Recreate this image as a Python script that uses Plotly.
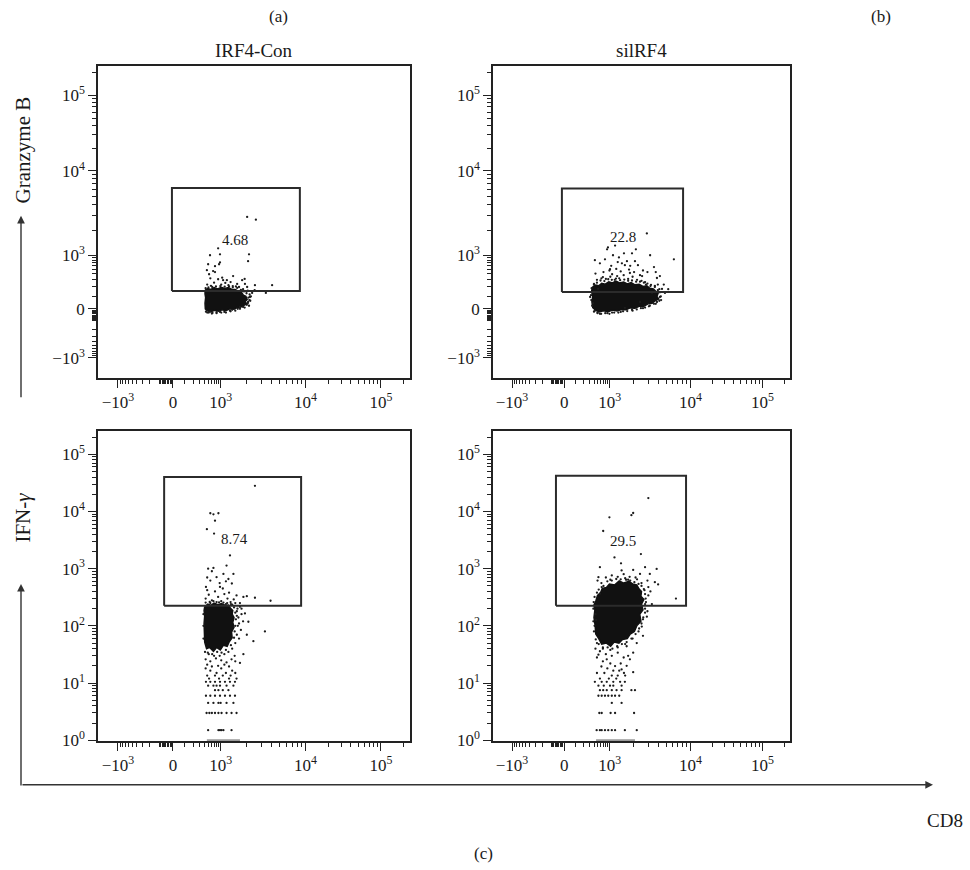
import numpy as np
import plotly.graph_objects as go

W, H = 970, 870
FONT = "Liberation Serif"
INK = "#1a1a1a"

# ---------------- axis scales ----------------
# CD8 (x) and Granzyme B (top y) are on logicle display scales, stored as channels 0-1000
LOGICLE_ANCHOR_VALUES = [-1e4, -1e3, 0, 1e3, 1e4, 1e5, 1e6]
LOGICLE_X_CHANNELS = [-92, 64, 240, 393, 665, 907, 1149]
LOGICLE_Y_CHANNELS = [-74, 65, 222, 393, 665, 907, 1149]
LOGICLE_MAJOR = [-1e3, 0, 1e3, 1e4, 1e5]
LOGICLE_MAJOR_TEXT = ["\u221210<sup>3</sup>", "0", "10<sup>3</sup>", "10<sup>4</sup>", "10<sup>5</sup>"]
LOGICLE_MINOR = ([-900, -800, -700, -600, -500, -400, -300, -200, -100,
                  -90, -80, -70, -60, -50, -40, -30, -20, -10,
                  100, 200, 300, 400, 500, 600, 700, 800, 900,
                  2e3, 3e3, 4e3, 5e3, 6e3, 7e3, 8e3, 9e3,
                  2e4, 3e4, 4e4, 5e4, 6e4, 7e4, 8e4, 9e4, 2e5])

# IFN-gamma (bottom y) is logarithmic
LOG_MAJOR = [1, 10, 100, 1e3, 1e4, 1e5]
LOG_MAJOR_TEXT = ["10<sup>0</sup>", "10<sup>1</sup>", "10<sup>2</sup>", "10<sup>3</sup>", "10<sup>4</sup>", "10<sup>5</sup>"]
LOG_MINOR = [m * 10 ** k for k in range(5) for m in range(2, 10)] + [2e5]
LOG_RANGE = [-0.017, 5.415]


def to_channel(v, channels):
    s = np.arcsinh(np.asarray(v, float) / 150) / np.log(10)
    sa = np.arcsinh(np.asarray(LOGICLE_ANCHOR_VALUES, float) / 150) / np.log(10)
    return np.interp(s, sa, channels)


# ---------------- panel texts ----------------
PANEL_TITLES = ["IRF4-Con", "silRF4"]
GATE_PERCENT = {"TL": "4.68", "TR": "22.8", "BL": "8.74", "BR": "29.5"}

# gates: (x0, x1) in CD8 channels, (y0, y1) in Granzyme B channels / IFN-gamma values
GATES = {
    "TL": ((237, 647), (279, 610)),
    "TR": ((232, 640), (276, 608)),
    "BL": ((212, 651), (225, 40000)),
    "BR": ((212, 650), (225, 42000)),
}
LABEL_POS = {"TL": (439, 444), "TR": (438, 451), "BL": (439, 3300), "BR": (438, 3000)}

# ---------------- events ----------------
# dense cores (outline of the saturated region)
TL_CORE = [(343, 282), (352, 287), (362, 284), (372, 290), (384, 286), (395, 291), (406, 287),
           (418, 290), (428, 285), (440, 284), (450, 278), (460, 275), (466, 266), (474, 262),
           (478, 252), (472, 246), (476, 238), (466, 233), (458, 228), (446, 226), (436, 221),
           (422, 222), (410, 216), (398, 219), (386, 214), (374, 217), (362, 213), (350, 216),
           (344, 222), (343, 240), (345, 258), (343, 270)]
TR_CORE = [(335, 292), (346, 298), (356, 296), (366, 304), (378, 301), (390, 309), (402, 305),
           (414, 311), (426, 305), (440, 308), (452, 302), (465, 306), (478, 299), (492, 301),
           (505, 294), (518, 296), (528, 288), (540, 286), (548, 278), (556, 272), (552, 262),
           (558, 254), (546, 248), (536, 240), (522, 238), (508, 230), (492, 230), (478, 224),
           (462, 225), (448, 219), (432, 220), (418, 215), (402, 218), (388, 213), (372, 216),
           (358, 212), (346, 217), (336, 226), (333, 245), (336, 262), (332, 278)]
BL_CORE = [(342, 215), (352, 240), (362, 228), (372, 250), (384, 235), (396, 245), (408, 228),
           (418, 232), (424, 205), (432, 185), (430, 160), (436, 140), (432, 115), (436, 95),
           (428, 78), (430, 62), (420, 52), (414, 44), (402, 46), (392, 38), (380, 42), (370, 36),
           (358, 42), (348, 40), (342, 52), (341, 75), (340, 110), (342, 150), (340, 185)]
BR_CORE = [(347, 280), (352, 340), (362, 380), (368, 450), (382, 470), (392, 540), (410, 520),
           (425, 610), (440, 560), (458, 600), (470, 540), (484, 520), (492, 440), (500, 400),
           (498, 330), (508, 290), (500, 240), (505, 190), (494, 160), (498, 120), (484, 100),
           (476, 80), (462, 72), (452, 60), (436, 58), (424, 50), (408, 52), (396, 44), (382, 50),
           (366, 48), (356, 60), (346, 72), (344, 100), (340, 140), (343, 190), (340, 230)]

TL_EVENTS = [(478, 517), (506, 508), (385, 416), (391, 397), (359, 394), (484, 397), (481, 375),
             (353, 365), (375, 359), (388, 365), (369, 343), (356, 333), (433, 327), (558, 298),
             (503, 298), (478, 292), (538, 273), (349, 346), (375, 340), (391, 371), (401, 314),
             (385, 317), (413, 314), (446, 302), (462, 314), (471, 302), (487, 260), (494, 273),
             (481, 244), (455, 228), (423, 216), (391, 212), (359, 213), (365, 207), (350, 300),
             (372, 306), (395, 300), (418, 298), (432, 295), (452, 292), (465, 285), (480, 280),
             (490, 262), (485, 250), (477, 235), (465, 228), (350, 210), (380, 208), (405, 212),
             (430, 219), (448, 222), (362, 296), (408, 305), (425, 308), (442, 294), (360, 320),
             (398, 322), (470, 318), (502, 282),
             (480, 240), (484, 232), (470, 226), (455, 222), (440, 216), (425, 214), (410, 210),
             (395, 210), (380, 211), (367, 209), (355, 210), (346, 213), (488, 248), (482, 258),
             (486, 268), (476, 272), (468, 278), (458, 283), (446, 289), (432, 291), (420, 294),
             (406, 293), (392, 295), (378, 294), (366, 292), (354, 291), (345, 288)]

TR_EVENTS = [(518, 464), (609, 381), (384, 413), (441, 400), (424, 387), (343, 378), (542, 356),
             (552, 321), (360, 368), (394, 349), (461, 337), (495, 330), (512, 308), (370, 324),
             (401, 333), (444, 362), (478, 375), (529, 394), (562, 327), (354, 286), (418, 327),
             (488, 362), (451, 375), (404, 394), (377, 381), (468, 400), (434, 368), (502, 327),
             (569, 286), (562, 260), (340, 213), (360, 206), (401, 210), (444, 225), (495, 244),
             (535, 273), (579, 273), (327, 260), (387, 419), (481, 413), (411, 425),
             (350, 315), (365, 320), (380, 318), (395, 325), (410, 315), (425, 320), (440, 330),
             (455, 318), (470, 325), (485, 315), (500, 312), (515, 300), (530, 295), (545, 292),
             (555, 300), (560, 285), (372, 340), (392, 345), (415, 350), (430, 342), (458, 348),
             (475, 340), (505, 345), (520, 340), (345, 335), (398, 360), (420, 372), (462, 360),
             (548, 340), (575, 300), (590, 285), (566, 250), (548, 238), (525, 230), (505, 224),
             (470, 216), (430, 212), (385, 208), (352, 210), (337, 240), (333, 275), (340, 300),
             (560, 248), (565, 262), (562, 275), (555, 282), (545, 296), (532, 299), (520, 303),
             (508, 306), (495, 309), (482, 309), (468, 313), (455, 312), (442, 316), (428, 314),
             (414, 319), (400, 315), (388, 317), (375, 311), (362, 313), (350, 306), (340, 302),
             (332, 288), (330, 266), (331, 250), (334, 232), (342, 215), (352, 208), (364, 206),
             (378, 208), (392, 206), (408, 210), (422, 210), (438, 214), (452, 215), (468, 219),
             (484, 220), (498, 224), (512, 226), (528, 232), (542, 238), (552, 244)]

BL_EVENTS = [(360, 9300), (370, 8900), (386, 9300), (375, 6900), (349, 4900), (372, 4100),
             (503, 28000), (353, 1000), (370, 1030), (412, 1130), (423, 1700), (380, 710),
             (402, 810), (434, 810), (418, 660), (346, 480), (391, 480), (429, 550), (444, 340),
             (466, 320), (477, 330), (503, 310), (553, 275), (455, 215), (471, 165), (482, 118),
             (535, 80), (498, 54), (477, 70), (466, 32), (455, 22.5), (360, 620),
             (345, 300), (355, 350), (365, 280), (375, 400), (385, 320), (395, 270), (405, 360),
             (415, 300), (425, 260), (435, 290), (350, 420), (400, 450), (420, 380), (440, 250),
             (360, 250), (380, 260), (410, 240), (430, 235), (390, 560), (350, 700), (365, 900),
             (410, 600), (445, 180), (450, 140), (448, 100), (445, 70), (440, 50), (430, 40),
             (418, 35), (405, 32), (390, 30), (372, 30), (355, 32), (343, 35), (460, 200),
             (465, 120), (452, 60), (438, 30), (345, 26), (360, 24), (378, 27), (395, 25),
             (412, 23), (428, 26), (350, 21), (385, 20), (405, 21), (440, 24), (420, 19.5),
             (365, 19.5), (345, 18), (395, 18), (430, 16.5), (360, 16.5), (380, 15), (410, 15),
             (440, 15), (350, 13.5), (375, 13.5), (400, 13.5), (425, 13.5), (356, 12), (388, 12),
             (420, 12), (444, 12),
             (338, 100), (338, 160), (338, 60), (345, 255), (358, 262), (370, 270), (388, 258),
             (402, 255), (414, 250), (426, 240), (436, 210), (440, 170), (442, 130), (440, 100),
             (438, 80), (436, 62), (426, 46), (410, 38), (396, 34), (382, 35), (366, 32), (352, 34),
             (445, 150), (447, 200), (455, 250), (452, 110), (458, 85), (460, 160),
             (346, 10.5), (360, 10.5), (375, 10.5), (391, 10.5), (407, 10.5), (423, 10.5), (439, 10.5),
             (353, 9), (370, 9), (380, 9), (391, 9), (412, 9), (434, 9),
             (375, 7.5), (386, 7.5), (400, 7.5), (418, 7.5),
             (346, 6), (360, 6), (375, 6), (391, 6), (407, 6), (423, 6), (439, 6),
             (353, 4.5), (370, 4.5), (386, 4.5), (393, 4.5), (412, 4.5), (434, 4.5),
             (348, 3), (357, 3), (365, 3), (375, 3), (386, 3), (396, 3), (412, 3), (428, 3), (444, 3),
             (353, 1.5), (386, 1.5), (391, 1.5), (396, 1.5), (402, 1.5), (428, 1.5)]

BR_EVENTS = [(523, 17100), (472, 9400), (466, 8600), (392, 7900), (371, 4550), (409, 1570),
             (498, 1800), (360, 1060), (431, 1240), (433, 930), (472, 950), (495, 810), (512, 1060),
             (551, 990), (545, 580), (556, 530), (528, 810), (523, 477), (523, 340), (616, 300),
             (501, 97), (505, 67), (518, 145), (484, 50), (472, 34), (461, 26), (450, 44), (355, 710),
             (366, 477), (360, 366), (347, 126), (355, 31.4), (383, 26), (411, 19.8), (433, 17.3),
             (441, 15), (472, 15.5), (478, 7.5),
             (380, 700), (400, 760), (420, 720), (445, 680), (460, 720), (485, 650), (500, 560),
             (510, 420), (515, 260), (512, 200), (505, 130), (490, 80), (470, 60), (445, 48),
             (420, 42), (395, 38), (370, 40), (350, 50), (342, 100), (352, 620), (365, 560),
             (395, 640), (440, 800), (455, 640), (480, 700), (520, 620), (530, 400), (535, 240),
             (520, 180), (360, 36), (380, 32), (400, 30), (420, 34), (440, 28), (455, 30), (345, 40),
             (350, 28), (370, 24), (395, 22), (430, 22), (450, 20), (365, 19.5), (385, 18),
             (405, 16.5), (425, 16.5), (350, 15), (375, 15), (400, 13.5), (420, 13.5), (445, 13.5),
             (360, 12), (390, 12), (415, 12),
             (338, 200), (339, 260), (342, 320), (350, 380), (356, 430), (372, 500), (385, 600),
             (400, 620), (415, 660), (430, 650), (448, 640), (462, 620), (476, 580), (490, 540),
             (500, 500), (508, 440), (512, 360), (514, 300), (512, 240), (512, 170), (506, 140),
             (500, 110), (492, 90), (480, 72), (466, 60), (450, 52), (434, 48), (418, 44),
             (402, 40), (386, 42), (370, 42), (356, 48), (346, 58), (340, 80), (338, 120), (345, 160),
             (343, 10.5), (366, 10.5), (383, 10.5), (405, 10.5), (428, 10.5), (444, 10.5),
             (355, 9), (373, 9), (394, 9), (405, 9), (433, 9),
             (360, 7.5), (371, 7.5), (383, 7.5), (400, 7.5), (416, 7.5), (433, 7.5), (466, 7.5),
             (355, 6), (366, 6), (377, 6), (388, 6), (400, 6), (411, 6), (425, 6),
             (400, 4.5), (433, 4.5),
             (358, 3), (366, 3), (396, 3), (411, 3), (475, 3),
             (349, 1.5), (360, 1.5), (366, 1.5), (377, 1.5), (388, 1.5), (400, 1.5), (411, 1.5),
             (444, 1.5), (484, 1.5)]

# events piled on the lower limit of the IFN-gamma scale (x extent)
BL_FLOOR = [(349, 1), (455, 1)]
BR_FLOOR = [(347, 1), (478, 1)]

CORES = {"TL": TL_CORE, "TR": TR_CORE, "BL": BL_CORE, "BR": BR_CORE}
EVENTS = {"TL": TL_EVENTS, "TR": TR_EVENTS, "BL": BL_EVENTS, "BR": BR_EVENTS}
FLOORS = {"BL": BL_FLOOR, "BR": BR_FLOOR}

# panel frames in page pixels (left, right, top, bottom)
FRAMES = {"TL": (98, 410, 67, 382), "TR": (493, 790, 67, 382),
          "BL": (98, 410, 435, 749), "BR": (493, 790, 435, 749)}
AXES = {"TL": ("x", "y"), "TR": ("x2", "y2"), "BL": ("x3", "y3"), "BR": ("x4", "y4")}

fig = go.Figure()

for key in ["TL", "TR", "BL", "BR"]:
    xa, ya = AXES[key]
    cx, cy = zip(*CORES[key])
    fig.add_trace(go.Scatter(x=list(cx) + [cx[0]], y=list(cy) + [cy[0]], mode="lines",
                             fill="toself", fillcolor="#111111",
                             line=dict(color="#111111", width=1.5),
                             xaxis=xa, yaxis=ya, hoverinfo="skip", showlegend=False))
    ex, ey = zip(*EVENTS[key])
    fig.add_trace(go.Scatter(x=ex, y=ey, mode="markers",
                             marker=dict(size=2.3, color="#1c1c1c", line=dict(width=0)),
                             xaxis=xa, yaxis=ya, hoverinfo="skip", showlegend=False))
    if key in FLOORS:
        fx, fy = zip(*FLOORS[key])
        fig.add_trace(go.Scatter(x=fx, y=fy, mode="lines", line=dict(color="#9a9a9a", width=2),
                                 xaxis=xa, yaxis=ya, hoverinfo="skip", showlegend=False))
    (gx0, gx1), (gy0, gy1) = GATES[key]
    fig.add_trace(go.Scatter(x=[gx0, gx1, gx1, gx0, gx0], y=[gy0, gy0, gy1, gy1, gy0],
                             mode="lines", line=dict(color="#2b2b2b", width=2),
                             xaxis=xa, yaxis=ya, hoverinfo="skip", showlegend=False))
    lx, ly = LABEL_POS[key]
    fig.add_annotation(x=lx, y=(np.log10(ly) if key in ("BL", "BR") else ly),
                       xref=xa, yref=ya, text=GATE_PERCENT[key], showarrow=False,
                       font=dict(family=FONT, size=15, color=INK))

tickfont = dict(family=FONT, size=17, color=INK)


def base_axis(domain, anchor):
    return dict(domain=domain, anchor=anchor, showline=True, linecolor="#222", linewidth=1.5,
                mirror=True, ticks="outside", ticklen=8, tickwidth=1, tickcolor="#222",
                showgrid=False, zeroline=False, tickfont=tickfont, fixedrange=True,
                tickmode="array")


def minor(vals):
    return dict(tickmode="array", tickvals=list(vals), ticks="outside", ticklen=4,
                tickwidth=1, tickcolor="#222")


layout_axes = {}
for key in ["TL", "TR", "BL", "BR"]:
    l, r, t, b = FRAMES[key]
    xa, ya = AXES[key]
    xd = [l / W, r / W]
    yd = [1 - b / H, 1 - t / H]
    xaxis = base_axis(xd, ya)
    xaxis.update(range=[0, 1000], tickvals=list(to_channel(LOGICLE_MAJOR, LOGICLE_X_CHANNELS)),
                 ticktext=LOGICLE_MAJOR_TEXT,
                 minor=minor(to_channel(LOGICLE_MINOR, LOGICLE_X_CHANNELS)))
    yaxis = base_axis(yd, xa)
    if key in ("TL", "TR"):
        yaxis.update(range=[0, 1000], tickvals=list(to_channel(LOGICLE_MAJOR, LOGICLE_Y_CHANNELS)),
                     ticktext=LOGICLE_MAJOR_TEXT,
                     minor=minor(to_channel(LOGICLE_MINOR, LOGICLE_Y_CHANNELS)))
    else:
        yaxis.update(type="log", range=LOG_RANGE, tickvals=LOG_MAJOR, ticktext=LOG_MAJOR_TEXT,
                     minor=minor(LOG_MINOR))
    layout_axes["xaxis" + xa[1:]] = xaxis
    layout_axes["yaxis" + ya[1:]] = yaxis

fig.update_layout(width=W, height=H, margin=dict(l=0, r=0, t=0, b=0),
                  paper_bgcolor="white", plot_bgcolor="white", showlegend=False,
                  **layout_axes)


def paper(px, py):
    return px / W, 1 - py / H


def text(px, py, s, size, angle=0):
    x, y = paper(px, py)
    fig.add_annotation(x=x, y=y, xref="paper", yref="paper", text=s, showarrow=False,
                       textangle=angle, font=dict(family=FONT, size=size, color=INK),
                       xanchor="center", yanchor="middle")


text(278, 17, "(a)", 17)
text(881, 17, "(b)", 17)
text(483, 862, "(c)", 17)
text(254, 51, PANEL_TITLES[0], 19)
text(641, 51, PANEL_TITLES[1], 19)
text(23, 152, "Granzyme B", 21, -90)
text(23, 523, "IFN-<i>\u03b3</i>", 21, -90)
text(945, 829, "CD8", 19)


def arrow(tip, tail):
    x, y = paper(*tip)
    fig.add_annotation(x=x, y=y, xref="paper", yref="paper", text="", showarrow=True,
                       ax=tail[0] - tip[0], ay=tail[1] - tip[1], arrowhead=2, arrowsize=1.1,
                       arrowwidth=1.4, arrowcolor="#333")


arrow((21, 218), (21, 401))
arrow((21, 590), (21, 793))
arrow((933, 793), (21, 793))

fig.write_html("out.html", config={"displayModeBar": False},
               post_script="document.body.style.margin='0';")
